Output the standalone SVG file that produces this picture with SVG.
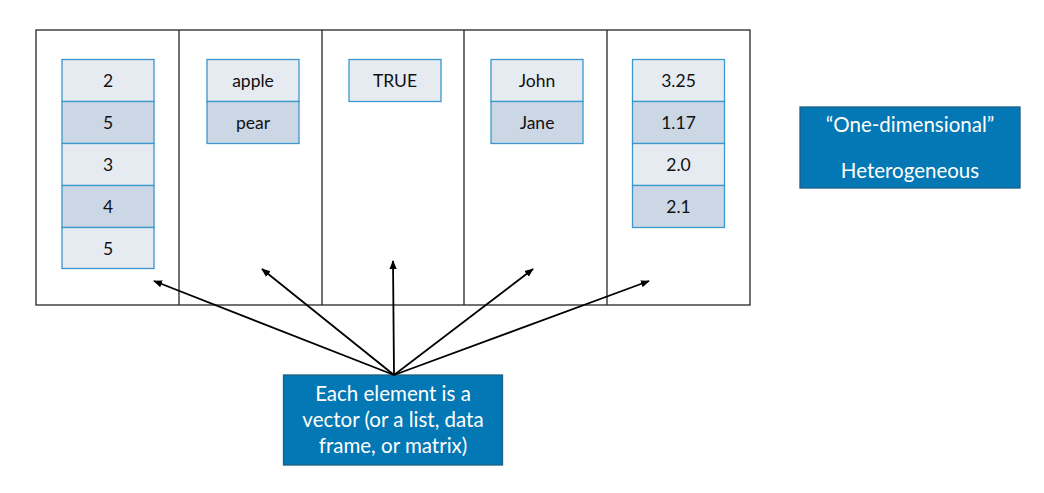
<svg xmlns="http://www.w3.org/2000/svg" width="1044" height="493" viewBox="0 0 1044 493">
<defs>
<marker id="ah" viewBox="0 0 10 10" refX="9" refY="5" markerWidth="9" markerHeight="9" markerUnits="userSpaceOnUse" orient="auto">
<path d="M0,1 L10,5 L0,9 z" fill="#000"/>
</marker>
<style>
.frame{fill:#fff;stroke:#262626;stroke-width:1.3}
.div{stroke:#262626;stroke-width:1.3}
.c1{fill:#E6EBF2;stroke:#3C97CC;stroke-width:1.3}
.c2{fill:#CBD7E5;stroke:#3C97CC;stroke-width:1.3}
.t{font-family:Lato,"Open Sans",sans-serif;font-size:17.5px;fill:#111;text-anchor:middle;dominant-baseline:central}
.blue{fill:#0378B4;stroke:#1D5E86;stroke-width:1.3}
.w{font-family:Lato,"Open Sans",sans-serif;font-size:20.5px;fill:#fff;text-anchor:middle;dominant-baseline:central}
.arr{stroke:#000;stroke-width:1.8;fill:none;marker-end:url(#ah)}
</style>
</defs>
<rect width="1044" height="493" fill="#fff"/>
<g id="frame">
<rect class="frame" x="36" y="30" width="714" height="275"/>
<line class="div" x1="179" y1="30" x2="179" y2="305"/>
<line class="div" x1="322" y1="30" x2="322" y2="305"/>
<line class="div" x1="464" y1="30" x2="464" y2="305"/>
<line class="div" x1="607" y1="30" x2="607" y2="305"/>
</g>
<g id="col1">
<rect class="c1" x="62" y="59.5" width="92" height="42"/><text class="t" x="108" y="80.5">2</text>
<rect class="c2" x="62" y="101.5" width="92" height="42"/><text class="t" x="108" y="122.5">5</text>
<rect class="c1" x="62" y="143.5" width="92" height="42"/><text class="t" x="108" y="164.5">3</text>
<rect class="c2" x="62" y="185.5" width="92" height="42"/><text class="t" x="108" y="206.5">4</text>
<rect class="c1" x="62" y="227.5" width="92" height="41"/><text class="t" x="108" y="248">5</text>
</g>
<g id="col2">
<rect class="c1" x="207" y="59.5" width="92" height="42"/><text class="t" x="253" y="80.5">apple</text>
<rect class="c2" x="207" y="101.5" width="92" height="42"/><text class="t" x="253" y="122.5">pear</text>
</g>
<g id="col3">
<rect class="c1" x="349" y="59.5" width="92" height="42"/><text class="t" x="395" y="80.5">TRUE</text>
</g>
<g id="col4">
<rect class="c1" x="491" y="59.5" width="92" height="42"/><text class="t" x="537" y="80.5">John</text>
<rect class="c2" x="491" y="101.5" width="92" height="42"/><text class="t" x="537" y="122.5">Jane</text>
</g>
<g id="col5">
<rect class="c1" x="632.5" y="59.5" width="92" height="42"/><text class="t" x="678.5" y="80.5">3.25</text>
<rect class="c2" x="632.5" y="101.5" width="92" height="42"/><text class="t" x="678.5" y="122.5">1.17</text>
<rect class="c1" x="632.5" y="143.5" width="92" height="42"/><text class="t" x="678.5" y="164.5">2.0</text>
<rect class="c2" x="632.5" y="185.5" width="92" height="42"/><text class="t" x="678.5" y="206.5">2.1</text>
</g>
<g id="label">
<rect class="blue" x="800" y="107" width="220" height="81"/>
<text class="w" x="910" y="124">“One-dimensional”</text>
<text class="w" x="910" y="170">Heterogeneous</text>
</g>
<g id="note">
<rect class="blue" x="283.5" y="375" width="219" height="90"/>
<text class="w" x="393" y="393">Each element is a</text>
<text class="w" x="393" y="419">vector (or a list, data</text>
<text class="w" x="393" y="445">frame, or matrix)</text>
</g>
<g id="connectors">
<line class="arr" x1="394" y1="375" x2="154" y2="281"/>
<line class="arr" x1="394" y1="375" x2="262" y2="269"/>
<line class="arr" x1="394" y1="375" x2="393" y2="261"/>
<line class="arr" x1="394" y1="375" x2="533" y2="269"/>
<line class="arr" x1="394" y1="375" x2="649" y2="281"/>
</g>
</svg>
